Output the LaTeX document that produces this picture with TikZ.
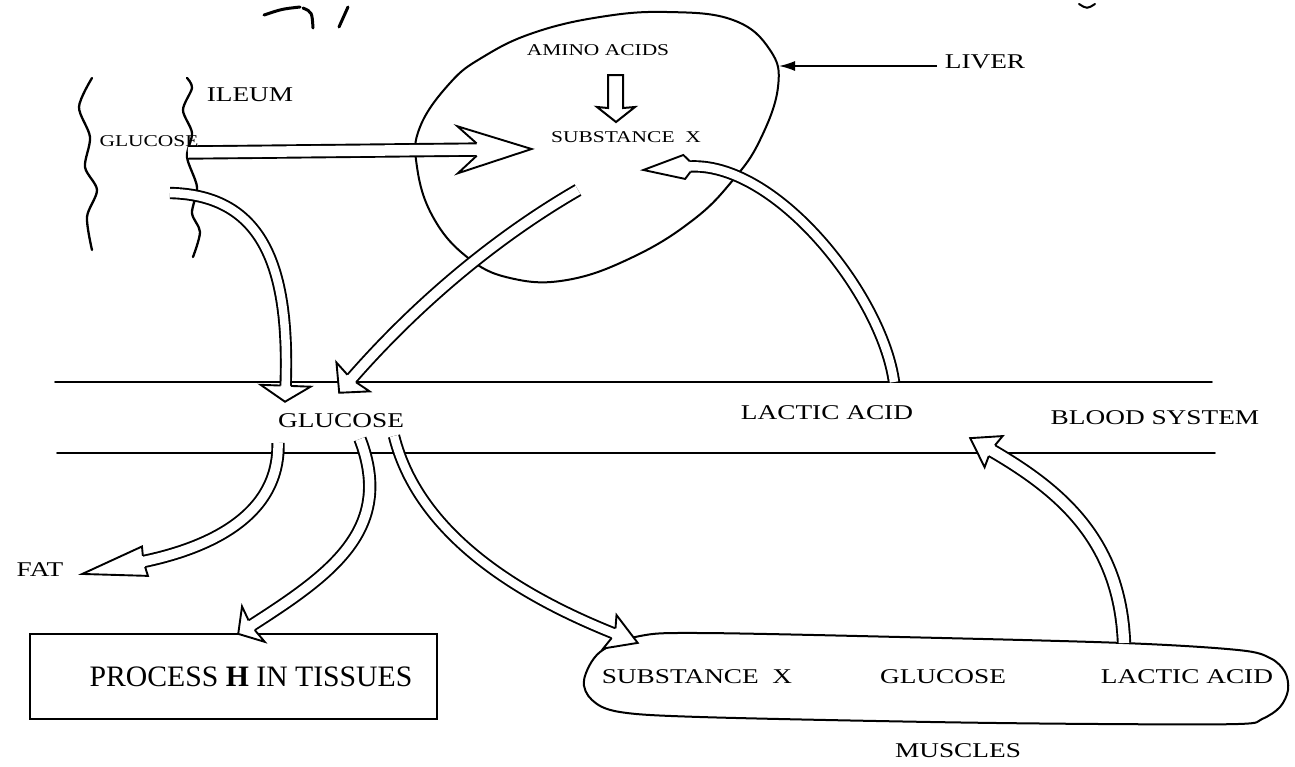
\documentclass[tikz,border=0pt]{standalone}
\usepackage{fontspec}
\setmainfont{Liberation Serif}
\newfontfamily\widefont{Liberation Serif}[FakeStretch=1.3]
\usetikzlibrary{arrows.meta,decorations.markings}
\tikzset{
  outline/.style={line width=2pt, line join=round, line cap=round},
  lbl/.style={font=\widefont\fontsize{21}{25}\selectfont, inner sep=0pt},
  slbl/.style={font=\widefont\fontsize{16.5}{20}\selectfont, inner sep=0pt},
  harrow/.style args={#1/#2/#3/#4/#5/#6}{
     postaction={draw, double=white, double distance=#1, line width=1.9pt, shorten >=#6},
     postaction={decorate, decoration={markings,
       mark=at position 0.999 with {\draw[line width=1.9pt, fill=white, line join=miter]
         (-#4,#5) -- (-#2,#3) -- (0,0) -- (-#2,-#3) -- (-#4,-#5);}}}},
  scribble/.style={line width=3pt, line cap=round}
}
\begin{document}
\begin{tikzpicture}[x=1pt,y=-1pt]
\useasboundingbox (0,0) rectangle (1295,766);

% stray marks at top
\draw[scribble] (264,15) .. controls (282,9) .. (300,7);
\draw[scribble] (303,8) .. controls (312,12) .. (313,28);
\draw[scribble] (348,7) -- (339,27);
\draw[scribble, line width=2pt] (1079,4) .. controls (1087,9) .. (1095,4);

% ileum walls
\draw[outline, line width=2.3pt] plot[smooth] coordinates {(92,78) (79,107) (90,137) (85,167) (97,190) (87,217) (92,250)};
\draw[outline, line width=2.3pt] plot[smooth] coordinates {(187,78) (192,88) (183,110) (192,133) (187,157) (197,187) (192,213) (200,232) (193,257)};
\node[lbl] (ileum) at (250,95) {ILEUM};
\node[slbl] (gluI) at (149,141) {GLUCOSE};

% liver
\draw[outline] plot[smooth cycle, tension=0.7] coordinates {(667,12) (733,20) (770,50) (778,87) (760,140) (733,180) (693,220) (633,257) (567,280) (510,278) (467,257) (433,217) (417,167) (420,127) (450,83) (483,57) (533,33) (600,17)};
\node[slbl] (amino) at (598,50) {AMINO ACIDS};
\node[slbl] (subX) at (626,137) {SUBSTANCE\ \ X};
\draw[outline, line join=miter] (608,75) -- (623,75) -- (623,108) -- (635,107) -- (616,122) -- (597,107) -- (608,108) -- cycle;

% liver label and pointer
\node[lbl] (liver) at (985,62) {LIVER};
\coordinate (lpS) at (937,66);
\coordinate (lpE) at (779,66);
\draw[line width=1.6pt, -{Latex[length=16pt,width=10pt]}] (lpS) -- (lpE);

% blood system
\coordinate (bTL) at (55,382);  \coordinate (bTR) at (1212,382);
\coordinate (bBL) at (57,453);  \coordinate (bBR) at (1215,453);
\draw[outline, line width=1.7pt] (bTL) -- (bTR);
\draw[outline, line width=1.7pt] (bBL) -- (bBR);
\node[lbl] (gluB) at (341,421) {GLUCOSE};
\node[lbl] (lacB) at (827,413) {LACTIC ACID};
\node[lbl] (blood) at (1155,418) {BLOOD SYSTEM};

% process H box
\node[draw, line width=2pt, minimum width=407pt, minimum height=85pt, inner sep=0pt,
      font=\fontsize{29.7}{34}\selectfont] (proc) at (233.5,676.5)
      {\hspace*{35pt}PROCESS \textbf{H} IN TISSUES};
\node[lbl] (fat) at (40,570) {FAT};

% muscles
\draw[outline] plot[smooth cycle, tension=0.55] coordinates {(584,680) (600,652) (640,636) (700,633) (900,637) (1123,643) (1238,650) (1270,658) (1285,672) (1288,690) (1280,707) (1262,719) (1238,724) (1100,724) (931,722) (700,717) (620,712) (592,700)};
\node[lbl] (mSub) at (697,677) {SUBSTANCE\ \ X};
\node[lbl] (mGlu) at (943,677) {GLUCOSE};
\node[lbl] (mLac) at (1187,677) {LACTIC ACID};
\node[lbl] (musc) at (958,751) {MUSCLES};

% hollow arrows: dd / head length / head half-width / notch / notch half-width / shorten
\coordinate (a1s) at (188,152.5); \coordinate (a1e) at (532,149);
\path[harrow={10.5pt/74/23.5/55/6.2/53pt}] (a1s) -- (a1e);

\coordinate (a3s) at (170,193); \coordinate (a3e) at (285,402);
\path[harrow={8.5pt/16/25/16/5.2/14pt}] (a3s) .. controls (265,195) and (290,270) .. (a3e);

\coordinate (a4s) at (578,190); \coordinate (a4e) at (339,393);
\path[harrow={9.5pt/21/22/19/5.7/17pt}] (a4s) .. controls (500,235) and (420,300) .. (a4e);

\coordinate (a5s) at (894,382); \coordinate (a5e) at (643,170);
\path[harrow={8.5pt/41/12/47/5.2/45pt}] (a5s) .. controls (882,295) and (775,160) .. (a5e);

\coordinate (a6s) at (278,443); \coordinate (a6e) at (82,574);
\path[harrow={9.5pt/64/15/63/5.7/61pt}] (a6s) .. controls (280,520) and (200,550) .. (a6e);

\coordinate (a7s) at (360,439); \coordinate (a7e) at (238,634);
\path[harrow={9.5pt/18/21/16/5.7/14pt}] (a7s) .. controls (395,530) and (330,575) .. (a7e);

\coordinate (a8s) at (394,436); \coordinate (a8e) at (638,643);
\path[harrow={8.5pt/30/18/26/5.2/24pt}] (a8s) .. controls (420,540) and (530,600) .. (a8e);

\coordinate (a9s) at (1124,643); \coordinate (a9e) at (970,438);
\path[harrow={10.5pt/27/18/25/6.2/23pt}] (a9s) .. controls (1120,540) and (1060,490) .. (a9e);
\end{tikzpicture}
\end{document}
